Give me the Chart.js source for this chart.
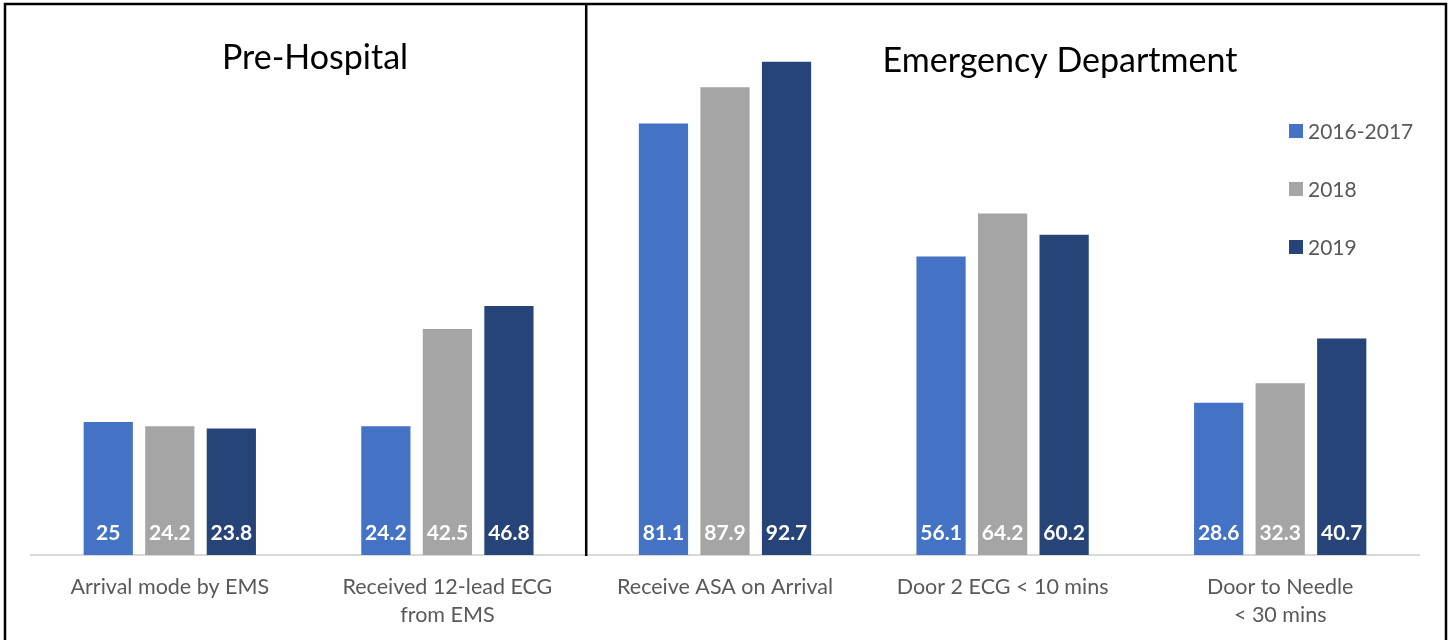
<!DOCTYPE html>
<html>
<head>
<meta charset="utf-8">
<script src="https://cdn.jsdelivr.net/npm/chart.js@4"></script>
<style>
  html, body { margin: 0; padding: 0; background: #fff; }
  #wrap { position: relative; width: 1450px; height: 640px; }
</style>
</head>
<body>
<div id="wrap"><canvas id="barChart" width="1450" height="640"></canvas></div>
<script>
// Chart data
const categories = [
  "Arrival mode by EMS",
  ["Received 12-lead ECG", "from EMS"],
  "Receive ASA on Arrival",
  "Door 2 ECG < 10 mins",
  ["Door to Needle", "< 30 mins"]
]
const seriesNames = ["2016-2017", "2018", "2019"]
const values2016_2017 = [25, 24.2, 81.1, 56.1, 28.6]
const values2018 = [24.2, 42.5, 87.9, 64.2, 32.3]
const values2019 = [23.8, 46.8, 92.7, 60.2, 40.7]
const seriesColors = ["#4472C4", "#A5A5A5", "#264478"]
const sectionTitles = ["Pre-Hospital", "Emergency Department"]

const FONT = "Lato, 'Open Sans', sans-serif"

// White value labels near the bottom of each bar
const valueLabels = {
  id: "valueLabels",
  afterDatasetsDraw(chart) {
    const ctx = chart.ctx
    ctx.save()
    ctx.fillStyle = "#fff"
    ctx.font = "bold 21px " + FONT
    ctx.textAlign = "center"
    ctx.textBaseline = "middle"
    chart.data.datasets.forEach((ds, i) => {
      chart.getDatasetMeta(i).data.forEach((bar, j) => {
        ctx.fillText(String(ds.data[j]), bar.x, bar.base - 22)
      })
    })
    ctx.restore()
  }
}

// Frame, divider, section titles and legend
const decorations = {
  id: "decorations",
  afterDraw(chart) {
    const ctx = chart.ctx
    const x = chart.scales.x
    const area = chart.chartArea
    ctx.save()

    // outer frame
    ctx.strokeStyle = "#000"
    ctx.lineWidth = 2.5
    ctx.strokeRect(5, 4, 1441, 660)

    // divider between the two sections
    const divX = (x.getPixelForValue(1) + x.getPixelForValue(2)) / 2
    ctx.beginPath()
    ctx.moveTo(divX, 4)
    ctx.lineTo(divX, area.bottom + 1)
    ctx.stroke()

    // section titles
    ctx.fillStyle = "#000"
    ctx.font = "34px " + FONT
    ctx.textAlign = "center"
    ctx.textBaseline = "middle"
    ctx.fillText(sectionTitles[0], 315, 58)
    ctx.fillText(sectionTitles[1], 1060, 61)

    // legend
    ctx.font = "21px " + FONT
    ctx.textAlign = "left"
    seriesNames.forEach((name, i) => {
      const y = 131 + i * 58
      ctx.fillStyle = seriesColors[i]
      ctx.fillRect(1289, y - 7, 14, 14)
      ctx.fillStyle = "#595959"
      ctx.fillText(name, 1308, y + 1)
    })
    ctx.restore()
  }
}

const barCtx = document.getElementById("barChart").getContext("2d")
new Chart(barCtx, {
  type: "bar",
  data: {
    labels: categories,
    datasets: [
      { label: seriesNames[0], data: values2016_2017, backgroundColor: seriesColors[0] },
      { label: seriesNames[1], data: values2018, backgroundColor: seriesColors[1] },
      { label: seriesNames[2], data: values2019, backgroundColor: seriesColors[2] }
    ]
  },
  options: {
    responsive: false,
    animation: false,
    devicePixelRatio: 1,
    categoryPercentage: 0.665,
    barPercentage: 0.8,
    layout: { padding: { left: 31, right: 31, top: 23, bottom: 0 } },
    plugins: {
      legend: { display: false },
      tooltip: { enabled: false }
    },
    scales: {
      x: {
        grid: { display: false },
        border: { color: "#D9D9D9", width: 2 },
        ticks: {
          color: "#595959",
          font: { family: FONT, size: 21.5, lineHeight: 1.3 },
          padding: 10,
          maxRotation: 0,
          autoSkip: false
        },
        afterFit(scale) { scale.height = 85 }
      },
      y: { display: false, min: 0, max: 100 }
    }
  },
  plugins: [valueLabels, decorations]
})
</script>
</body>
</html>
